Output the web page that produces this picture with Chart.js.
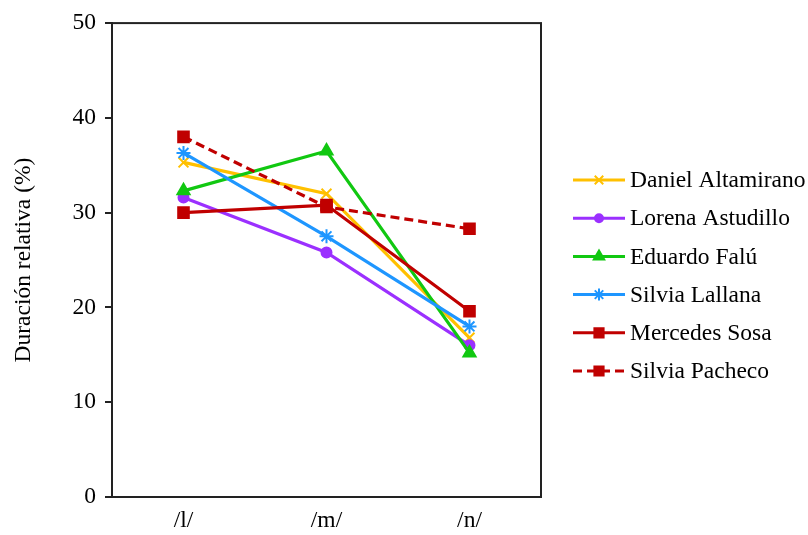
<!DOCTYPE html>
<html>
<head>
<meta charset="utf-8">
<script src="https://cdn.jsdelivr.net/npm/chart.js@4/dist/chart.umd.min.js"></script>
<style>
  html, body { margin: 0; padding: 0; background: #fff; }
  #wrap { width: 808px; height: 535px; }
</style>
</head>
<body>
<div id="wrap"><canvas id="c" width="808" height="535"></canvas></div>
<script>
const categories = ['/l/', '/m/', '/n/'];
const seriesNames = ['Daniel Altamirano', 'Lorena Astudillo', 'Eduardo Falú', 'Silvia Lallana', 'Mercedes Sosa', 'Silvia Pacheco'];
const danielAltamirano = [35.3, 32.0, 16.8];
const lorenaAstudillo = [31.6, 25.8, 16.0];
const eduardoFalu = [32.3, 36.5, 15.2];
const silviaLallana = [36.3, 27.5, 18.0];
const mercedesSosa = [30.0, 30.8, 19.6];
const silviaPacheco = [38.0, 30.6, 28.3];
const yTicks = [0, 10, 20, 30, 40, 50];
const yTitle = 'Duración relativa (%)';

const FONT = "'Liberation Serif', 'Times New Roman', serif";
const FS = 23.5;

const styles = [
  { color: '#FFC000', point: 'crossRot', radius: 7, dash: [] },
  { color: '#9B30FF', point: 'circle', radius: 5, dash: [] },
  { color: '#11C811', point: 'triangle', radius: 7, dash: [] },
  { color: '#1E96FF', point: 'star', radius: 7, dash: [] },
  { color: '#C00000', point: 'rect', radius: 7.5, dash: [] },
  { color: '#C00000', point: 'rect', radius: 7.5, dash: [9, 5] }
];
const seriesData = [danielAltamirano, lorenaAstudillo, eduardoFalu, silviaLallana, mercedesSosa, silviaPacheco];

const datasets = seriesData.map((d, i) => ({
  label: seriesNames[i],
  data: d,
  borderColor: styles[i].color,
  backgroundColor: styles[i].color,
  pointBackgroundColor: styles[i].color,
  pointBorderColor: styles[i].color,
  pointStyle: styles[i].point,
  pointRadius: styles[i].radius,
  pointBorderWidth: 2,
  borderWidth: 3.2,
  borderDash: styles[i].dash,
  tension: 0,
  fill: false,
  order: seriesData.length - i
}));

const framePlugin = {
  id: 'frame',
  afterDatasetsDraw(chart) {
    const a = chart.chartArea;
    const ctx = chart.ctx;
    ctx.save();
    ctx.strokeStyle = '#222';
    ctx.lineWidth = 2;
    ctx.strokeRect(a.left, a.top, a.right - a.left, a.bottom - a.top);
    ctx.restore();
  }
};

const legendPlugin = {
  id: 'customLegend',
  afterDraw(chart) {
    const ctx = chart.ctx;
    const x0 = 573, lineLen = 52, textX = 630;
    const yStart = 180, step = 38.2;
    ctx.save();
    chart.data.datasets.forEach((ds, i) => {
      const y = yStart + i * step;
      ctx.strokeStyle = ds.borderColor;
      ctx.lineWidth = 3;
      ctx.setLineDash(ds.borderDash || []);
      ctx.beginPath();
      ctx.moveTo(x0, y);
      ctx.lineTo(x0 + lineLen, y);
      ctx.stroke();
      ctx.setLineDash([]);
      ctx.fillStyle = ds.pointBackgroundColor;
      ctx.strokeStyle = ds.pointBorderColor;
      ctx.lineWidth = 2;
      Chart.helpers.drawPoint(ctx, {
        pointStyle: ds.pointStyle,
        radius: ds.pointStyle === 'rect' ? 6.5 : ds.pointRadius - 1,
        borderWidth: 2,
        rotation: 0
      }, x0 + lineLen / 2, y);
      ctx.fillStyle = '#000';
      ctx.font = FS + 'px ' + FONT;
      ctx.textBaseline = 'middle';
      ctx.textAlign = 'left';
      ctx.fillText(ds.label, textX, y + 1);
    });
    ctx.restore();
  }
};

new Chart(document.getElementById('c'), {
  type: 'line',
  data: { labels: categories, datasets },
  options: {
    responsive: false,
    animation: false,
    events: [],
    layout: { padding: { left: 0, top: 23, right: 267, bottom: 0 } },
    plugins: { legend: { display: false }, tooltip: { enabled: false } },
    scales: {
      x: {
        offset: true,
        grid: { display: false, drawTicks: false },
        border: { display: true, color: '#222', width: 2 },
        ticks: { color: '#000', font: { family: FONT, size: FS }, padding: 10 },
        afterFit(scale) { scale.height = 38; }
      },
      y: {
        min: 0,
        max: 50,
        afterBuildTicks(scale) { scale.ticks = yTicks.map(v => ({ value: v })); },
        grid: { drawOnChartArea: false, drawTicks: true, tickLength: 7, color: '#222', lineWidth: 2 },
        border: { display: true, color: '#222', width: 2 },
        ticks: { color: '#000', font: { family: FONT, size: FS }, padding: 9 },
        title: { display: true, text: yTitle, color: '#000', font: { family: FONT, size: FS }, padding: { top: 10, bottom: 0 } },
        afterFit(scale) { scale.width = 112; }
      }
    }
  },
  plugins: [framePlugin, legendPlugin]
});
</script>
</body>
</html>
